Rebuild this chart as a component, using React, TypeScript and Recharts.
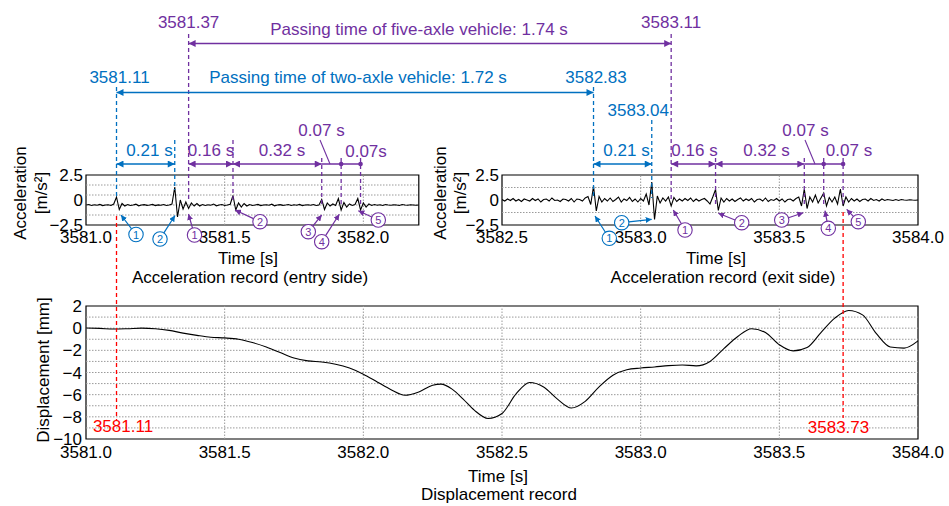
import React from 'react';
import { LineChart, Line, XAxis, YAxis, ReferenceLine, ReferenceArea } from 'recharts';

const FONT = '"Liberation Sans", Arial, Helvetica, sans-serif';
const BLUE = '#0070C0';
const PURPLE = '#7030A0';
const RED = '#FF0000';
const GRID = '#9a9a9a';

// ---------- Acceleration record (entry side): samples every 0.01 s from 3581.00 ----------
const accEntryStart = 3581.0;
const accEntryStep = 0.01;
const accEntryValues = [
  -0.5, -0.45, -0.55, -0.48, -0.52, -0.44, -0.56, -0.5, -0.47, -0.55,
  -0.4, 0.3, -0.95, -0.35, -0.6, -0.45, -0.55, -0.5, -0.42, -0.58,
  -0.5, -0.46, -0.54, -0.5, -0.44, -0.56, -0.49, -0.53, -0.45, -0.55,
  -0.5, -0.4, 1.3, -1.7, 0.0, -0.9, -0.2, -0.85, -0.3, -0.6,
  -0.35, -0.6, -0.45, -0.55, -0.48, -0.52, -0.4, -0.58, -0.5, -0.45,
  -0.55, -0.5, -0.42, 0.45, -1.0, -0.3, -0.7, -0.35, -0.6, -0.45,
  -0.55, -0.5, -0.44, -0.56, -0.5, -0.47, -0.53, -0.42, -0.58, -0.5,
  -0.46, -0.54, -0.5, -0.45, -0.55, -0.48, -0.52, -0.44, -0.56, -0.5,
  -0.47, -0.53, -0.45, -0.55, -0.5, 0.05, -0.95, -0.3, -0.6, -0.4,
  -0.55, 0.15, -1.0, -0.25, -0.7, -0.4, -0.55, -0.45, 0.15, -1.0,
  -0.3, -0.7, -0.4, -0.55, -0.45, -0.52, -0.48, -0.55, -0.45, -0.5,
  -0.53, -0.47, -0.5, -0.55, -0.45, -0.5, -0.52, -0.48, -0.5, -0.53,
  -0.5,
];

// ---------- Acceleration record (exit side): samples every 0.01 s from 3582.50 ----------
const accExitStart = 3582.5;
const accExitStep = 0.01;
const accExitValues = [
  0.05, -0.1, 0.1, -0.05, 0.15, -0.1, 0.05, -0.15, 0.1, 0,
  -0.1, 0.15, -0.05, 0.1, -0.2, 0.05, 0.1, -0.1, 0.2, -0.05,
  0, -0.15, 0.1, 0.05, -0.1, 0.15, -0.2, 0.1, 0.05, -0.1,
  0.2, 0.35, -0.45, 1.4, -1.1, 0.35, -0.2, 0.15, -0.1, 0.2,
  -0.15, 0.05, 0.3, -0.2, 0.1, -0.05, 0.25, -0.15, 0.1, -0.2,
  0.15, -0.1, 0.6, -0.5, 1.8, -1.95, 0.4, -0.3, 0.2, -0.1,
  0.3, -0.6, 0.25, -0.15, 0.1, -0.1, 0.15, -0.05, 0.2, -0.15,
  0.1, -0.1, 0.05, 0.15, -0.1, -0.4, 0.3, 1.05, -1.05, 0.2,
  -0.2, 0.15, -0.1, 0.1, -0.15, 0.05, 0.2, -0.1, 0.1, -0.05,
  0.15, -0.2, 0.05, 0.1, -0.1, 0.2, -0.15, 0.05, -0.05, 0.15,
  -0.1, 0.1, -0.2, 0.05, 0.1, -0.1, 0.15, 0.3, -0.6, 1.1,
  -0.85, 0.3, -0.2, 0.5, -0.3, 0.2, 0.7, -0.6, 0.25, -0.2,
  0.3, -0.4, 1.1, -0.6, 0.3, -0.2, 0.15, -0.1, 0.1, -0.15,
  0.05, 0.1, -0.1, 0.15, -0.05, 0.05, -0.1, 0.1, -0.05, 0.05,
  0, -0.05, 0.05, -0.05, 0.05, 0, -0.03, 0.03, 0, -0.02,
  0,
];

// ---------- Displacement record ----------
const dispTime = [
  3581.0, 3581.05, 3581.1, 3581.15, 3581.2, 3581.25, 3581.3, 3581.35, 3581.4, 3581.45,
  3581.5, 3581.55, 3581.6, 3581.65, 3581.7, 3581.75, 3581.8, 3581.85, 3581.9, 3581.95,
  3582.0, 3582.05, 3582.1, 3582.15, 3582.2, 3582.25, 3582.28, 3582.32, 3582.36, 3582.4,
  3582.45, 3582.5, 3582.55, 3582.6, 3582.65, 3582.7, 3582.75, 3582.8, 3582.85, 3582.9,
  3582.95, 3583.0, 3583.05, 3583.1, 3583.15, 3583.2, 3583.25, 3583.3, 3583.35, 3583.4,
  3583.45, 3583.5, 3583.55, 3583.6, 3583.65, 3583.7, 3583.75, 3583.8, 3583.85, 3583.9,
  3583.95, 3584.0,
];
const dispValue = [
  0.02, -0.02, -0.08, -0.05, 0.0, -0.05, -0.2, -0.45, -0.65, -0.82,
  -0.88, -1.0, -1.3, -1.7, -2.2, -2.7, -2.95, -3.05, -3.25, -3.6,
  -4.15, -4.85, -5.55, -6.05, -5.75, -5.15, -5.05, -5.5, -6.4, -7.4,
  -8.15, -7.7, -5.95, -4.9, -5.3, -6.4, -7.2, -6.6, -5.3, -4.25,
  -3.75, -3.6, -3.5, -3.38, -3.32, -3.4, -3.0, -1.85, -0.75, -0.05,
  -0.4, -1.5, -2.05, -1.75, -0.4, 0.9, 1.6, 1.2, -0.5, -1.7,
  -1.8, -1.15,
];

// ---------- axes / ticks ----------
const accEntryTicks = [3581.0, 3581.5, 3582.0];
const accExitTicks = [3582.5, 3583.0, 3583.5, 3584.0];
const dispTicks = [3581.0, 3581.5, 3582.0, 3582.5, 3583.0, 3583.5, 3584.0];
const accYTicks = [2.5, 0, -2.5];
const dispYTicks = [2, 0, -2, -4, -6, -8, -10];
const accEntryGridY = [1.5, 0.5, -0.5, -1.5];
const accExitGridY = [1.25, -1.25];
const dispGridY = [1, 0, -1, -2, -3, -4, -5, -6, -7, -8, -9];

// ---------- annotated times ----------
const twoAxleEntry = [3581.11, 3581.32];
const fiveAxleEntry = [3581.37, 3581.53, 3581.85, 3581.92, 3581.99];
const twoAxleExit = [3582.83, 3583.04];
const fiveAxleExit = [3583.11, 3583.27, 3583.59, 3583.66, 3583.73];
const dispMarks = [3581.11, 3583.73];

const accEntryData = accEntryValues.map((v, i) => ({ t: +(accEntryStart + i * accEntryStep).toFixed(2), v }));
const accExitData = accExitValues.map((v, i) => ({ t: +(accExitStart + i * accExitStep).toFixed(2), v }));
const dispData = dispTime.map((t, i) => ({ t, v: dispValue[i] }));

// shared horizontal scale of the three plots (plot boxes are aligned)
const PLOT_L = 86;
const PLOT_R = 918;
const X0 = 3581.0;
const X1 = 3584.0;
const X = (t: number) => PLOT_L + ((t - X0) / (X1 - X0)) * (PLOT_R - PLOT_L);

const fmtY = (v: number) => String(v).replace('-', '\u2212');
const fmtX = (v: number) => v.toFixed(1);
const tickStyle = { fontSize: 17, fill: '#000', fontFamily: FONT };

function AccChart({ data, domain, ticks, gridX, gridY, width, yWidth, right }: any) {
  return (
    <LineChart width={width} height={85} data={data} margin={{ top: 10, right, bottom: 0, left: 0 }}>
      <XAxis dataKey="t" type="number" domain={domain} ticks={ticks} interval={0} tickFormatter={fmtX}
        tick={tickStyle} tickLine={false} axisLine={false} tickSize={0} tickMargin={6} height={25} allowDataOverflow />
      <YAxis type="number" domain={[-2.5, 2.5]} ticks={accYTicks} interval={0} tickFormatter={fmtY}
        tick={tickStyle} tickLine={false} axisLine={false} tickSize={0} tickMargin={3} width={yWidth} allowDataOverflow />
      {gridX.map((x: number) => (
        <ReferenceLine key={'gx' + x} x={x} stroke={GRID} strokeDasharray="1.5 1.5" />
      ))}
      {gridY.map((y: number) => (
        <ReferenceLine key={'gy' + y} y={y} stroke={GRID} strokeDasharray="1.5 1.5" />
      ))}
      <Line type="linear" dataKey="v" stroke="#000" strokeWidth={1.1} dot={false} isAnimationActive={false} />
      <ReferenceArea x1={domain[0]} x2={domain[1]} y1={-2.5} y2={2.5} fill="none" stroke="#000" strokeWidth={1.2} />
    </LineChart>
  );
}

function DispChart() {
  return (
    <LineChart width={949} height={170} data={dispData} margin={{ top: 10, right: 949 - PLOT_R, bottom: 0, left: 0 }}>
      <XAxis dataKey="t" type="number" domain={[X0, X1]} ticks={dispTicks} interval={0} tickFormatter={fmtX}
        tick={tickStyle} tickLine={false} axisLine={false} tickSize={0} tickMargin={7} height={27} allowDataOverflow />
      <YAxis type="number" domain={[-10, 2]} ticks={dispYTicks} interval={0} tickFormatter={fmtY}
        tick={tickStyle} tickLine={false} axisLine={false} tickSize={0} tickMargin={4} width={PLOT_L} allowDataOverflow />
      {dispTicks.slice(1, -1).map((x) => (
        <ReferenceLine key={'gx' + x} x={x} stroke={GRID} strokeDasharray="1.5 1.5" />
      ))}
      {dispGridY.map((y) => (
        <ReferenceLine key={'gy' + y} y={y} stroke={GRID} strokeDasharray="1.5 1.5" />
      ))}
      <Line type="monotone" dataKey="v" stroke="#000" strokeWidth={1.1} dot={false} isAnimationActive={false} />
      <ReferenceArea x1={X0} x2={X1} y1={-10} y2={2} fill="none" stroke="#000" strokeWidth={1.2} />
    </LineChart>
  );
}

function Txt({ x, y, c = '#000', a = 'middle', s = 17, children }: any) {
  return (
    <text x={x} y={y + s * 0.36} fill={c} textAnchor={a} fontSize={s} fontFamily={FONT}>
      {children}
    </text>
  );
}

function VTxt({ x, y, children }: any) {
  return (
    <text transform={`translate(${x},${y}) rotate(-90)`} y={6} textAnchor="middle" fontSize={17} fontFamily={FONT} fill="#000">
      {children}
    </text>
  );
}

const mk = (c: string) => (c === BLUE ? 'url(#mB)' : 'url(#mP)');
const mks = (c: string) => (c === BLUE ? 'url(#sB)' : 'url(#sP)');

function DArrow({ t1, t2, y, c }: any) {
  return <line x1={X(t1)} y1={y} x2={X(t2)} y2={y} stroke={c} strokeWidth={1.4} markerStart={mk(c)} markerEnd={mk(c)} />;
}

function VDash({ t, y1, y2, c }: any) {
  return <line x1={X(t)} y1={y1} x2={X(t)} y2={y2} stroke={c} strokeWidth={1.3} strokeDasharray="4 3" />;
}

function Circ({ cx, cy, n, c, tx, ty }: any) {
  const r = 7.2;
  const dx = tx - cx;
  const dy = ty - cy;
  const d = Math.hypot(dx, dy);
  return (
    <g>
      <line x1={cx + (dx / d) * r} y1={cy + (dy / d) * r} x2={tx} y2={ty} stroke={c} strokeWidth={1.2} markerEnd={mks(c)} />
      <circle cx={cx} cy={cy} r={r} fill="#fff" stroke={c} strokeWidth={1.1} />
      <text x={cx} y={cy + 4} textAnchor="middle" fontSize={11} fontFamily={FONT} fill={c}>{n}</text>
    </g>
  );
}

function Overlay() {
  const ROW = 164;
  return (
    <svg width={949} height={506} style={{ position: 'absolute', left: 0, top: 0, pointerEvents: 'none' }}>
      <defs>
        {[['mB', BLUE, 8, 7], ['mP', PURPLE, 8, 7], ['sB', BLUE, 6, 6], ['sP', PURPLE, 6, 6]].map(([id, c, w, h]: any) => (
          <marker key={id} id={id} viewBox="0 0 10 10" refX={10} refY={5} markerWidth={w} markerHeight={h}
            markerUnits="userSpaceOnUse" orient="auto-start-reverse">
            <path d="M0,0 L10,5 L0,10 z" fill={c} />
          </marker>
        ))}
      </defs>

      {/* passing time arrows */}
      <Txt x={X(fiveAxleEntry[0])} y={21.5} c={PURPLE}>3581.37</Txt>
      <Txt x={X(fiveAxleExit[0])} y={21.5} c={PURPLE}>3583.11</Txt>
      <Txt x={419} y={29} c={PURPLE}>Passing time of five-axle vehicle: 1.74 s</Txt>
      <DArrow t1={fiveAxleEntry[0]} t2={fiveAxleExit[0]} y={43.5} c={PURPLE} />
      <VDash t={fiveAxleEntry[0]} y1={34} y2={202} c={PURPLE} />
      <VDash t={fiveAxleExit[0]} y1={34} y2={202} c={PURPLE} />

      <Txt x={X(twoAxleEntry[0]) + 3} y={76.5} c={BLUE}>3581.11</Txt>
      <Txt x={X(twoAxleExit[0]) + 2.5} y={76.5} c={BLUE}>3582.83</Txt>
      <Txt x={358} y={76.5} c={BLUE}>Passing time of two-axle vehicle: 1.72 s</Txt>
      <DArrow t1={twoAxleEntry[0]} t2={twoAxleExit[0]} y={92.5} c={BLUE} />
      <VDash t={twoAxleEntry[0]} y1={87} y2={198} c={BLUE} />
      <VDash t={twoAxleExit[0]} y1={87} y2={198} c={BLUE} />
      <Txt x={669} y={110} c={BLUE} a="end">3583.04</Txt>
      <VDash t={twoAxleExit[1]} y1={120} y2={198} c={BLUE} />
      <VDash t={twoAxleEntry[1]} y1={140} y2={190} c={BLUE} />

      {/* interval dashes */}
      <VDash t={fiveAxleEntry[1]} y1={140} y2={202} c={PURPLE} />
      {fiveAxleEntry.slice(2).map((t) => <VDash key={t} t={t} y1={158} y2={204} c={PURPLE} />)}
      {fiveAxleExit.slice(1).map((t) => <VDash key={t} t={t} y1={158} y2={204} c={PURPLE} />)}

      {/* interval arrows, entry side */}
      <DArrow t1={twoAxleEntry[0]} t2={twoAxleEntry[1]} y={ROW} c={BLUE} />
      <DArrow t1={fiveAxleEntry[0]} t2={fiveAxleEntry[1]} y={ROW} c={PURPLE} />
      <DArrow t1={fiveAxleEntry[1]} t2={fiveAxleEntry[2]} y={ROW} c={PURPLE} />
      <line x1={X(fiveAxleEntry[2])} y1={ROW} x2={X(fiveAxleEntry[4])} y2={ROW} stroke={PURPLE} strokeWidth={1.4} />
      {fiveAxleEntry.slice(3).map((t) => <circle key={t} cx={X(t)} cy={ROW} r={2.3} fill={PURPLE} />)}
      <Txt x={149.5} y={150} c={BLUE}>0.21 s</Txt>
      <Txt x={211} y={150} c={PURPLE}>0.16 s</Txt>
      <Txt x={282} y={150} c={PURPLE}>0.32 s</Txt>
      <Txt x={321.5} y={130} c={PURPLE}>0.07 s</Txt>
      <line x1={320} y1={140} x2={330} y2={ROW} stroke={PURPLE} strokeWidth={1.1} />
      <Txt x={366} y={150.5} c={PURPLE}>0.07s</Txt>

      {/* interval arrows, exit side */}
      <DArrow t1={twoAxleExit[0]} t2={twoAxleExit[1]} y={ROW} c={BLUE} />
      <DArrow t1={fiveAxleExit[0]} t2={fiveAxleExit[1]} y={ROW} c={PURPLE} />
      <DArrow t1={fiveAxleExit[1]} t2={fiveAxleExit[2]} y={ROW} c={PURPLE} />
      <line x1={X(fiveAxleExit[2])} y1={ROW} x2={X(fiveAxleExit[4])} y2={ROW} stroke={PURPLE} strokeWidth={1.4} />
      {fiveAxleExit.slice(3).map((t) => <circle key={t} cx={X(t)} cy={ROW} r={2.3} fill={PURPLE} />)}
      <Txt x={626.5} y={150} c={BLUE}>0.21 s</Txt>
      <Txt x={694.5} y={150} c={PURPLE}>0.16 s</Txt>
      <Txt x={766.5} y={150} c={PURPLE}>0.32 s</Txt>
      <Txt x={805.5} y={130} c={PURPLE}>0.07 s</Txt>
      <line x1={805} y1={140} x2={815} y2={ROW} stroke={PURPLE} strokeWidth={1.1} />
      <Txt x={849} y={150} c={PURPLE}>0.07 s</Txt>

      {/* red dashed lines to displacement record */}
      <VDash t={dispMarks[0]} y1={216} y2={421} c={RED} />
      <VDash t={dispMarks[1]} y1={212} y2={418} c={RED} />
      <Txt x={123} y={425.5} c={RED}>3581.11</Txt>
      <Txt x={838.5} y={426.5} c={RED}>3583.73</Txt>

      {/* circled numbers, entry side */}
      <Circ cx={136} cy={234.5} n="1" c={BLUE} tx={121} ty={215} />
      <Circ cx={160} cy={239} n="2" c={BLUE} tx={175} ty={215.5} />
      <Circ cx={194.5} cy={235} n="1" c={PURPLE} tx={188.5} ty={214} />
      <Circ cx={260} cy={221.7} n="2" c={PURPLE} tx={235} ty={210} />
      <Circ cx={308.3} cy={231.7} n="3" c={PURPLE} tx={321.7} ty={215} />
      <Circ cx={321.7} cy={241.7} n="4" c={PURPLE} tx={339.3} ty={214.3} />
      <Circ cx={378.3} cy={220} n="5" c={PURPLE} tx={358.3} ty={210.7} />

      {/* circled numbers, exit side */}
      <Circ cx={609.3} cy={238.3} n="1" c={BLUE} tx={595} ty={216} />
      <Circ cx={621.7} cy={222.7} n="2" c={BLUE} tx={651.7} ty={219.3} />
      <Circ cx={685} cy={230} n="1" c={PURPLE} tx={673.3} ty={210} />
      <Circ cx={741.7} cy={222.7} n="2" c={PURPLE} tx={718.3} ty={213.3} />
      <Circ cx={781.7} cy={220} n="3" c={PURPLE} tx={803.3} ty={212.7} />
      <Circ cx={828.3} cy={228.3} n="4" c={PURPLE} tx={825} ty={210.7} />
      <Circ cx={858.3} cy={221.7} n="5" c={PURPLE} tx={846.7} ty={209.3} />

      {/* axis titles */}
      <VTxt x={20} y={193}>Acceleration</VTxt>
      <VTxt x={41} y={193}>[m/s²]</VTxt>
      <VTxt x={440} y={193}>Acceleration</VTxt>
      <VTxt x={460} y={193}>[m/s²]</VTxt>
      <VTxt x={42.5} y={370}>Displacement [mm]</VTxt>
      <Txt x={248} y={258}>Time [s]</Txt>
      <Txt x={250} y={277}>Acceleration record (entry side)</Txt>
      <Txt x={716} y={258}>Time [s]</Txt>
      <Txt x={723} y={277}>Acceleration record (exit side)</Txt>
      <Txt x={498} y={476}>Time [s]</Txt>
      <Txt x={499} y={494}>Displacement record</Txt>
    </svg>
  );
}

export default function App() {
  return (
    <div style={{ position: 'absolute', left: 0, top: 0, width: 949, height: 506, background: '#fff', overflow: 'hidden', fontFamily: FONT }}>
      <div style={{ position: 'absolute', left: 0, top: 296 }}>
        <DispChart />
      </div>
      <div style={{ position: 'absolute', left: 0, top: 165 }}>
        <AccChart data={accEntryData} domain={[3581.0, 3582.2]} ticks={accEntryTicks} gridX={[3581.5, 3582.0]}
          gridY={accEntryGridY} width={420} yWidth={PLOT_L} right={420 - X(3582.2)} />
      </div>
      <div style={{ position: 'absolute', left: 430, top: 165 }}>
        <AccChart data={accExitData} domain={[3582.5, 3584.0]} ticks={accExitTicks} gridX={[3583.0, 3583.5]}
          gridY={accExitGridY} width={519} yWidth={X(3582.5) - 430} right={949 - PLOT_R} />
      </div>
      <Overlay />
    </div>
  );
}
